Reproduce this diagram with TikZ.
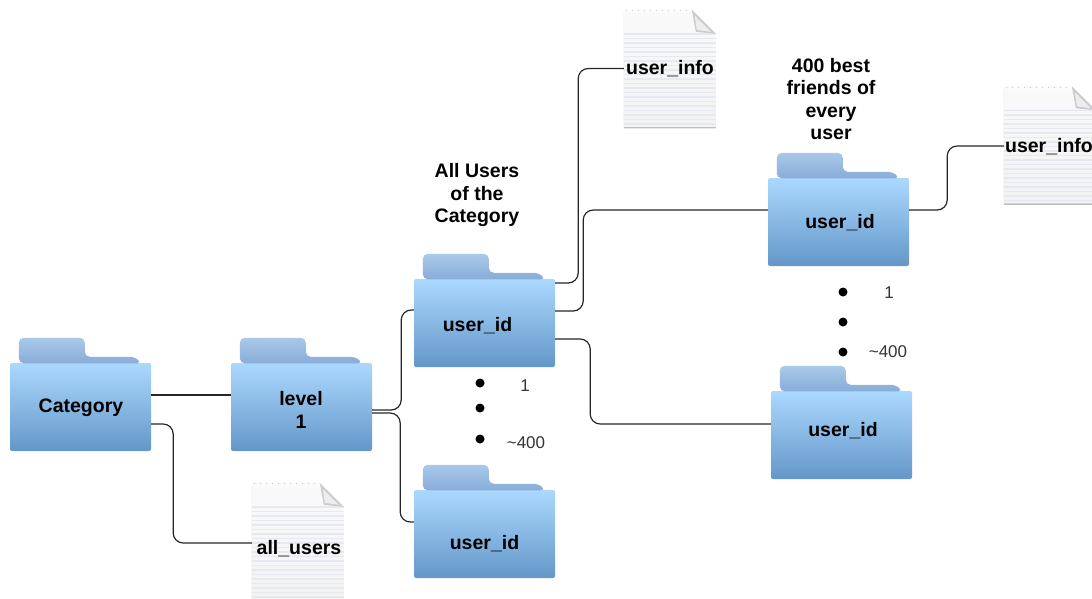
\documentclass[tikz,border=0pt]{standalone}
\usepackage{fontspec}
\setmainfont{Liberation Sans}
\definecolor{foldertop}{HTML}{ABD8FD}
\definecolor{folderbot}{HTML}{6497C9}
\definecolor{tabtop}{HTML}{A9C9E9}
\definecolor{tabbot}{HTML}{88ACD8}
\definecolor{paperline}{HTML}{E6EAF0}
\tikzset{
  folder/.style={rectangle,rounded corners=2pt,minimum width=141pt,minimum height=88pt,inner sep=0pt,top color=foldertop,bottom color=folderbot},
  foldertab/.style={rounded corners=5pt,top color=tabtop,bottom color=tabbot},
  docbox/.style={rectangle,minimum width=92pt,minimum height=117pt,inner sep=0pt},
  link/.style={line width=1.2pt,rounded corners=10pt,black!85},
  lbl/.style={font=\bfseries\fontsize{19.5}{22.5}\selectfont,align=center,inner sep=0pt},
  small/.style={font=\fontsize{17}{20}\selectfont,inner sep=0pt,black!80},
  dot/.style={circle,fill=black,minimum size=9pt,inner sep=0pt}
}
\newcommand{\folderat}[3]{
  \node[folder] (#1) at (#2,#3) {};
  \begin{scope}[shift={(#1.north west)}]
    \path[foldertab] (9,0.5)--(9,-25)--(75,-25)--(75,-6)--(125,-6)--(132,0.5)--cycle;
  \end{scope}
}
\newcommand{\docat}[3]{
  \node[docbox] (#1) at (#2,#3) {};
  \begin{scope}[shift={(#1.north west)}]
    \fill[black!25] (0,3)--(0,118.5)--(92,118.5)--(92,24)--cycle;
    \shade[top color=black!2,bottom color=black!5] (0,0)--(68,0)--(92,24)--(92,117)--(0,117)--cycle;
    \foreach \yy in {24,28.5,...,115}
      \draw[paperline,line width=1.4pt] (0,\yy)--(92,\yy);
    \draw[black!22,line width=1pt,dash pattern=on 1pt off 5pt] (2,1)--(66,1);
    \fill[black!20] (68,0)--(92,24)--(72,22)--cycle;
    \fill[black!7] (71,6)--(87,22)--(73,20)--cycle;
  \end{scope}
}
\begin{document}
\begin{tikzpicture}[x=1pt,y=-1pt]
    \useasboundingbox (0,0) rectangle (1092,598);
    \clip (0,0) rectangle (1092,598);
    \docat{allusers}{298}{541.5}
    \docat{infoa}{670}{68.5}
    \docat{infob}{1050}{145}
    \folderat{category}{80.5}{407}
    \folderat{levelone}{301.5}{407}
    \folderat{usera}{484.5}{323}
    \folderat{userb}{484.5}{534}
    \folderat{userc}{838.5}{222}
    \folderat{userd}{841.5}{435}
    \draw[link] ([yshift=12pt]category.east)--([yshift=12pt]levelone.west);
    \draw[link] ([yshift=-17pt]category.east)--++(22,0)|-([yshift=-1.5pt]allusers.west);
    \draw[link] ([yshift=-3pt]levelone.east)--++(29,0)|-([yshift=13pt]usera.west);
    \draw[link] ([yshift=-6pt]levelone.east)--++(28,0)|-([yshift=12pt]userb.west);
    \draw[link] ([yshift=40pt]usera.east)--++(23,0)|-(infoa.west);
    \draw[link] ([yshift=12pt]usera.east)--++(28,0)|-([yshift=12pt]userc.west);
    \draw[link] ([yshift=-16pt]usera.east)--++(35,0)|-([yshift=11pt]userd.west);
    \draw[link] ([yshift=12pt]userc.east)--++(38,0)|-([yshift=-1pt]infob.west);
    \node[lbl] (cattext) at (81,407.5) {Category};
    \node[lbl] (leveltext) at (301,410) {level\\1};
    \node[lbl] (atext) at (477.5,326) {user\_id};
    \node[lbl] (btext) at (484.5,544) {user\_id};
    \node[lbl] (ctext) at (840,223) {user\_id};
    \node[lbl] (dtext) at (843,431) {user\_id};
    \node[lbl] (alltext) at (299,549) {all\_users};
    \node[lbl] (infoatext) at (670,69) {user\_info};
    \node[lbl] (infobtext) at (1049,147) {user\_info};
    \node[lbl] (allcap) at (477,195) {All Users\\of the\\Category};
    \node[lbl] (bestcap) at (831,99) {400 best\\friends of\\every\\user};
    \node[dot] (dota) at (480,383) {};
    \node[dot] (dotb) at (480,408) {};
    \node[dot] (dotc) at (480,439) {};
    \node[dot] (dotd) at (843,292) {};
    \node[dot] (dote) at (843,322) {};
    \node[dot] (dotf) at (843,352) {};
    \node[small] (onea) at (525,386) {1};
    \node[small] (mosta) at (526,443) {\textasciitilde 400};
    \node[small] (oneb) at (889,293) {1};
    \node[small] (mostb) at (888,352) {\textasciitilde 400};
\end{tikzpicture}
\end{document}
